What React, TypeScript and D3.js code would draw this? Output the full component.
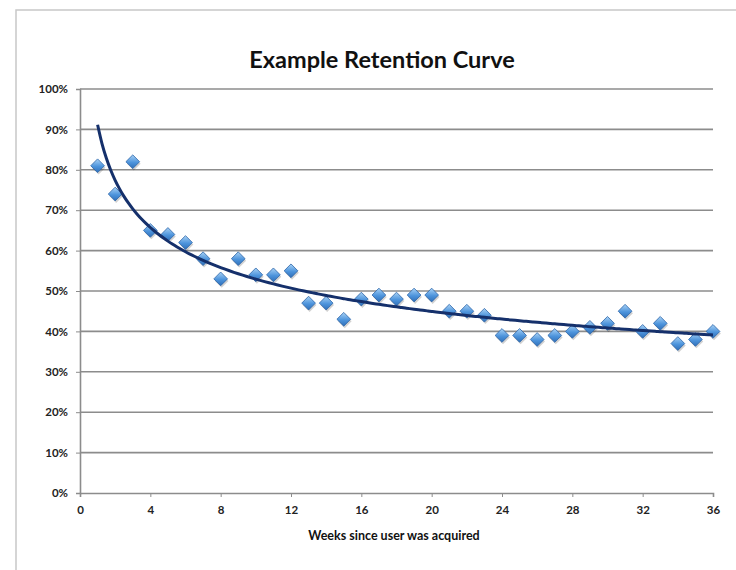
import React, { useEffect, useRef } from 'react'
import * as d3 from 'd3'

const weeks = [
  1, 2, 3, 4, 5, 6, 7, 8, 9, 10, 11, 12, 13, 14, 15, 16, 17, 18, 19, 20, 21,
  22, 23, 24, 25, 26, 27, 28, 29, 30, 31, 32, 33, 34, 35, 36,
]
const retention = [
  0.81, 0.74, 0.82, 0.65, 0.64, 0.62, 0.58, 0.53, 0.58, 0.54, 0.54, 0.55,
  0.47, 0.47, 0.43, 0.48, 0.49, 0.48, 0.49, 0.49, 0.45, 0.45, 0.44, 0.39,
  0.39, 0.38, 0.39, 0.4, 0.41, 0.42, 0.45, 0.4, 0.42, 0.37, 0.38, 0.4,
]
const xTicks = [0, 4, 8, 12, 16, 20, 24, 28, 32, 36]
const yTicks = [0, 0.1, 0.2, 0.3, 0.4, 0.5, 0.6, 0.7, 0.8, 0.9, 1]

const title = 'Example Retention Curve'
const xLabel = 'Weeks since user was acquired'

const App: React.FC = () => {
  const svgRef = useRef<SVGSVGElement | null>(null)

  useEffect(() => {
    if (!svgRef.current) return
    const svg = d3.select(svgRef.current)
    svg.selectAll('*').remove()

    const width = 736
    const height = 570
    const margin = { top: 89, right: 23, bottom: 77, left: 80 }
    const font = 'Lato, "Open Sans", sans-serif'

    const x = d3
      .scaleLinear()
      .domain([0, 36])
      .range([margin.left, width - margin.right])
    const y = d3
      .scaleLinear()
      .domain([0, 1])
      .range([height - margin.bottom, margin.top])

    // frame
    svg
      .append('rect')
      .attr('x', 16)
      .attr('y', 10)
      .attr('width', width)
      .attr('height', height)
      .attr('fill', '#fff')
      .attr('stroke', '#c8c8c8')
      .attr('stroke-width', 1.5)

    // gridlines
    svg
      .append('g')
      .selectAll('line')
      .data(yTicks.slice(1))
      .enter()
      .append('line')
      .attr('x1', x(0))
      .attr('x2', x(36))
      .attr('y1', (d) => y(d))
      .attr('y2', (d) => y(d))
      .attr('stroke', '#8c8c8c')
      .attr('stroke-width', 1.6)

    // y axis
    const yAxis = svg
      .append('g')
      .attr('transform', `translate(${x(0)},0)`)
      .call(
        d3
          .axisLeft(y)
          .tickValues(yTicks)
          .tickFormat(d3.format('.0%'))
          .tickSize(4)
          .tickPadding(8),
      )
    yAxis.select('.domain').attr('stroke', '#8c8c8c').attr('stroke-width', 1.6)
    yAxis.selectAll('line').attr('stroke', '#8c8c8c')
    yAxis
      .selectAll('text')
      .attr('font-family', font)
      .attr('font-weight', 'bold')
      .attr('font-size', 11.5)
      .attr('fill', '#222')

    // x axis
    const xAxis = svg
      .append('g')
      .attr('transform', `translate(0,${y(0)})`)
      .call(
        d3
          .axisBottom(x)
          .tickValues(xTicks)
          .tickFormat(d3.format('d'))
          .tickSize(4)
          .tickPadding(9),
      )
    xAxis.select('.domain').attr('stroke', '#8c8c8c').attr('stroke-width', 1.6)
    xAxis.selectAll('line').attr('stroke', '#8c8c8c')
    xAxis
      .selectAll('text')
      .attr('font-family', font)
      .attr('font-weight', 'bold')
      .attr('font-size', 11.5)
      .attr('fill', '#222')

    // title and axis label
    svg
      .append('text')
      .attr('x', 382)
      .attr('y', 68)
      .attr('text-anchor', 'middle')
      .attr('font-family', font)
      .attr('font-weight', 'bold')
      .attr('font-size', 23.5)
      .attr('fill', '#111')
      .text(title)
    svg
      .append('text')
      .attr('x', 394)
      .attr('y', 540)
      .attr('text-anchor', 'middle')
      .attr('font-family', font)
      .attr('font-weight', 'bold')
      .attr('font-size', 12.5)
      .attr('fill', '#111')
      .text(xLabel)

    // power trendline fit (ln y = ln a + b ln x)
    const lx = weeks.map((w) => Math.log(w))
    const ly = retention.map((r) => Math.log(r))
    const mx = d3.mean(lx)!
    const my = d3.mean(ly)!
    const b =
      d3.sum(lx.map((v, i) => (v - mx) * (ly[i] - my))) /
      d3.sum(lx.map((v) => (v - mx) * (v - mx)))
    const a = Math.exp(my - b * mx)
    const fit = d3.range(1, 36.01, 0.25).map((w) => [w, a * Math.pow(w, b)])

    // markers
    const defs = svg.append('defs')
    const grad = defs
      .append('linearGradient')
      .attr('id', 'mk')
      .attr('x1', 0)
      .attr('y1', 0)
      .attr('x2', 0)
      .attr('y2', 1)
    grad.append('stop').attr('offset', '0%').attr('stop-color', '#a9d2f5')
    grad.append('stop').attr('offset', '55%').attr('stop-color', '#4d94dc')
    grad.append('stop').attr('offset', '100%').attr('stop-color', '#2f6fb8')

    const diamond = d3.symbol().type(d3.symbolDiamond2).size(120)
    const pts = svg.append('g')
    pts
      .selectAll('path.shadow')
      .data(weeks)
      .enter()
      .append('path')
      .attr('class', 'shadow')
      .attr('d', diamond)
      .attr('transform', (d, i) => `translate(${x(d) + 1},${y(retention[i]) + 2})`)
      .attr('fill', 'rgba(0,0,0,0.18)')
    pts
      .selectAll('path.pt')
      .data(weeks)
      .enter()
      .append('path')
      .attr('class', 'pt')
      .attr('d', diamond)
      .attr('transform', (d, i) => `translate(${x(d)},${y(retention[i])})`)
      .attr('fill', 'url(#mk)')
      .attr('stroke', '#2c64a8')
      .attr('stroke-width', 0.8)

    svg
      .append('path')
      .datum(fit)
      .attr(
        'd',
        d3
          .line<number[]>()
          .x((d) => x(d[0]))
          .y((d) => y(d[1]))
          .curve(d3.curveMonotoneX),
      )
      .attr('fill', 'none')
      .attr('stroke', '#15306b')
      .attr('stroke-width', 3)
  }, [])

  return (
    <svg
      ref={svgRef}
      width={736}
      height={570}
      style={{ position: 'absolute', left: 0, top: 0 }}
    ></svg>
  )
}

export default App
